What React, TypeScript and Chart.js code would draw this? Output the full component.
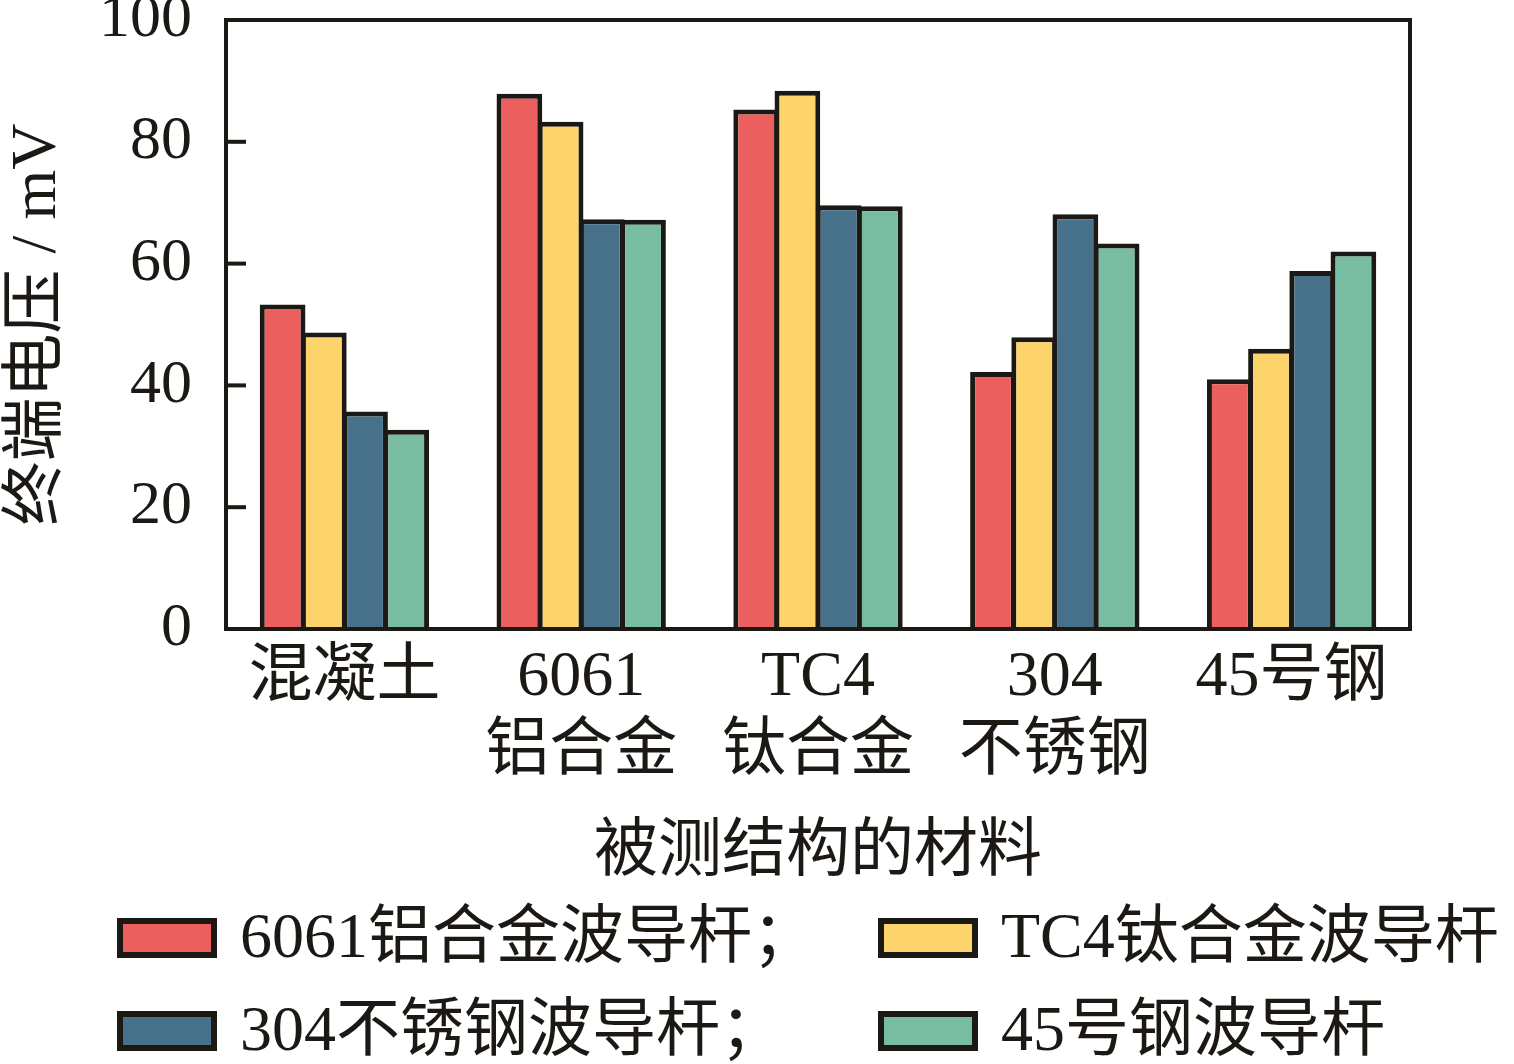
import React, { useEffect, useRef } from 'react';
import { Chart, registerables } from 'chart.js';

Chart.register(...registerables);

// ---- data ----
const categories: (string | string[])[] = ['混凝土', ['6061', '铝合金'], ['TC4', '钛合金'], ['304', '不锈钢'], '45号钢'];
const seriesLabels = ['6061铝合金波导杆；', 'TC4钛合金波导杆', '304不锈钢波导杆；', '45号钢波导杆'];
const al6061Rod = [53.3, 87.9, 85.3, 42.2, 41.0];
const tc4Rod = [48.7, 83.3, 88.4, 47.9, 46.0];
const ss304Rod = [35.7, 67.3, 69.6, 68.1, 58.8];
const steel45Rod = [32.7, 67.2, 69.4, 63.3, 62.0];
const yTickValues = [0, 20, 40, 60, 80, 100];
const yTitle = '终端电压 / mV';
const xTitle = '被测结构的材料';

// ---- styles ----
const seriesColors = ['#EC5F5F', '#FDD46B', '#47718B', '#78BDA3'];
const INK = '#1c1814';
const FONT = "'Liberation Serif', 'Noto Sans CJK SC', serif";

const frameAndLegend = {
  id: 'frameAndLegend',
  afterDatasetsDraw(chart: any) {
    const { ctx, chartArea: a, scales } = chart;
    ctx.save();
    ctx.strokeStyle = INK;
    ctx.lineWidth = 4;
    ctx.strokeRect(a.left, a.top, a.right - a.left, a.bottom - a.top);
    const y = scales.y;
    y.ticks.forEach((t: any) => {
      const py = y.getPixelForValue(t.value);
      ctx.beginPath();
      ctx.moveTo(a.left, py);
      ctx.lineTo(a.left + 20, py);
      ctx.stroke();
    });
    ctx.restore();
  },
  afterDraw(chart: any) {
    const { ctx } = chart;
    const colX = [117, 878];
    const rowY = [938, 1031];
    ctx.save();
    chart.data.datasets.forEach((ds: any, i: number) => {
      const x = colX[i % 2];
      const cy = rowY[Math.floor(i / 2)];
      const w = 100, h = 40, bw = 6;
      ctx.fillStyle = ds.backgroundColor;
      ctx.fillRect(x, cy - h / 2, w, h);
      ctx.strokeStyle = INK;
      ctx.lineWidth = bw;
      ctx.strokeRect(x + bw / 2, cy - h / 2 + bw / 2, w - bw, h - bw);
      ctx.fillStyle = INK;
      ctx.font = `64px ${FONT}`;
      ctx.textAlign = 'left';
      ctx.textBaseline = 'middle';
      ctx.fillText(ds.label, x + 123, cy + 2);
    });
    ctx.restore();
  },
};

export default function App() {
  const ref = useRef<HTMLCanvasElement>(null);
  useEffect(() => {
    if (!ref.current) return;
    const series = [al6061Rod, tc4Rod, ss304Rod, steel45Rod];
    const chart = new Chart(ref.current, {
      type: 'bar',
      data: {
        labels: categories as any,
        datasets: series.map((d, i) => ({
          label: seriesLabels[i],
          data: d,
          backgroundColor: seriesColors[i],
          borderColor: INK,
          borderWidth: 5,
          borderSkipped: 'start' as const,
          categoryPercentage: 0.696,
          barPercentage: 1.11,
        })),
      },
      options: {
        responsive: false,
        animation: false,
        devicePixelRatio: 1,
        layout: { padding: { top: 20, right: 104, bottom: 174, left: 0 } },
        plugins: { legend: { display: false }, tooltip: { enabled: false } },
        scales: {
          x: {
            grid: { display: false, drawTicks: false },
            border: { display: false },
            ticks: {
              color: INK,
              padding: 12,
              maxRotation: 0,
              autoSkip: false,
              font: { family: FONT, size: 64, lineHeight: 1.156 },
            },
            title: {
              display: true,
              text: xTitle,
              color: INK,
              padding: { top: 0, bottom: 0 },
              font: { family: FONT, size: 64, lineHeight: 1.156 },
            },
            afterFit(scale: any) {
              scale.height = 261;
              scale.paddingLeft = 0;
              scale.paddingRight = 0;
              scale.paddingTop = 0;
              scale.paddingBottom = 0;
            },
          },
          y: {
            min: 0,
            max: 100,
            afterBuildTicks(scale: any) {
              scale.ticks = yTickValues.map((v) => ({ value: v }));
            },
            grid: { display: false, drawTicks: false },
            border: { display: false },
            ticks: {
              color: INK,
              padding: 34,
              font: { family: FONT, size: 62 },
            },
            title: {
              display: true,
              text: yTitle,
              color: INK,
              padding: { top: 6, bottom: 0 },
              font: { family: FONT, size: 64, lineHeight: 1 },
            },
            afterFit(scale: any) {
              scale.width = 226;
              scale.paddingTop = 0;
              scale.paddingBottom = 0;
              scale.paddingLeft = 0;
              scale.paddingRight = 0;
            },
          },
        },
      },
      plugins: [frameAndLegend],
    });
    return () => chart.destroy();
  }, []);
  return (
    <div style={{ position: 'absolute', left: 0, top: 0, width: 1514, height: 1064, background: '#fff' }}>
      <canvas ref={ref} width={1514} height={1064} style={{ display: 'block' }} />
    </div>
  );
}
